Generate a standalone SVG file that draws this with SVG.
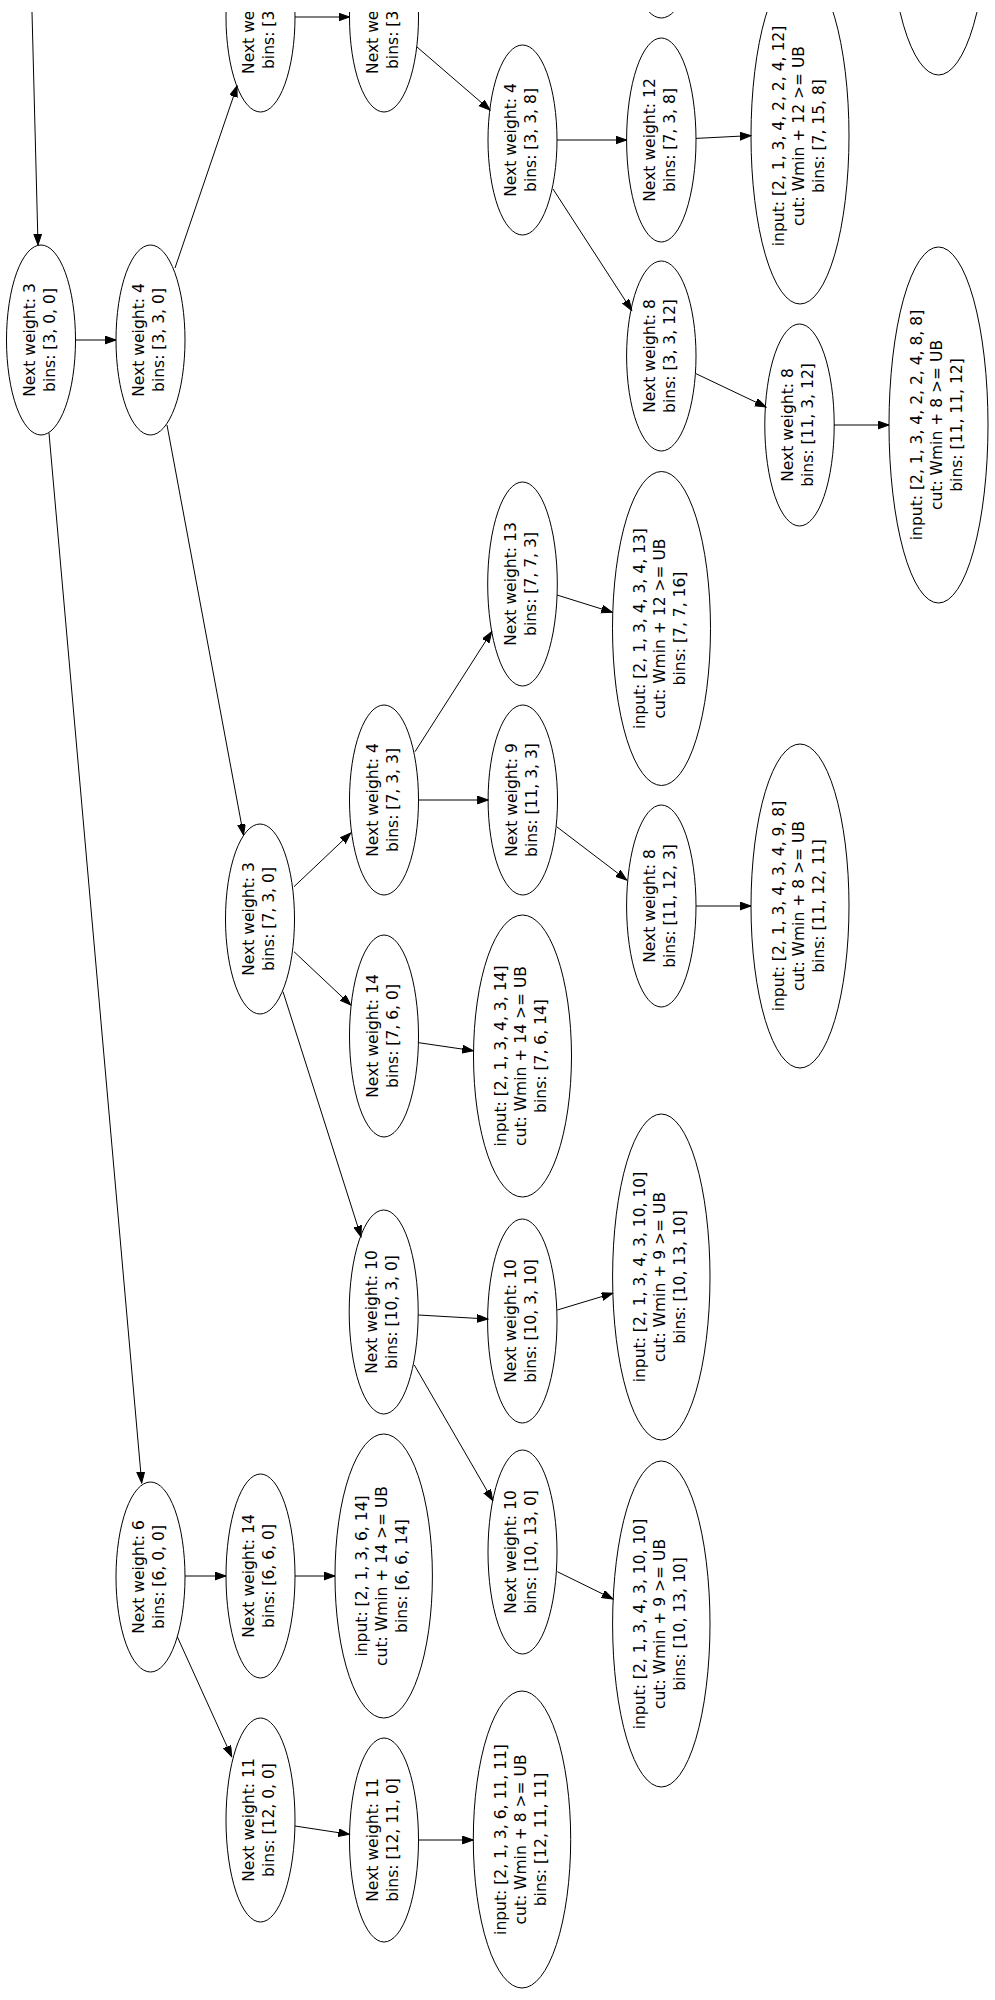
<svg xmlns="http://www.w3.org/2000/svg" width="995" height="2000" viewBox="0 0 995 2000">
<style>
.n ellipse{fill:none;stroke:#000;stroke-width:1}
text{font-family:"DejaVu Sans",Verdana,sans-serif;font-size:15.56px;fill:#000;text-anchor:middle}
text.s{text-anchor:start}
#connectors line{stroke:#000;stroke-width:1;marker-end:url(#arr)}
</style>
<defs>
<marker id="arr" markerUnits="userSpaceOnUse" markerWidth="12" markerHeight="9" refX="11" refY="3.9" orient="auto"><path d="M0,0 L11,3.9 L0,7.8 z" fill="#000" stroke="#000" stroke-width="1"/></marker>
<clipPath id="clip"><rect x="0" y="12" width="995" height="1988"/></clipPath>
</defs>
<rect x="0" y="0" width="995" height="2000" fill="#fff"/>
<g clip-path="url(#clip)">
<g id="connectors">
<line x1="31.7" y1="0" x2="38" y2="245"/>
<line x1="75.5" y1="340" x2="116" y2="340"/>
<line x1="49" y1="433" x2="141.7" y2="1483"/>
<line x1="175" y1="268" x2="237" y2="86"/>
<line x1="167" y1="425" x2="243.5" y2="835"/>
<line x1="295" y1="17" x2="349.5" y2="17"/>
<line x1="417" y1="47" x2="490" y2="110"/>
<line x1="557" y1="140" x2="626.6" y2="140"/>
<line x1="696" y1="138.4" x2="751" y2="135.6"/>
<line x1="553" y1="189" x2="631.7" y2="310.4"/>
<line x1="696" y1="373.7" x2="766" y2="407"/>
<line x1="834" y1="425" x2="889" y2="425"/>
<line x1="294" y1="886.7" x2="350.7" y2="833"/>
<line x1="294" y1="951.7" x2="350.7" y2="1005"/>
<line x1="283" y1="991.7" x2="361" y2="1236.7"/>
<line x1="415" y1="751.7" x2="491.7" y2="631.7"/>
<line x1="418.7" y1="800" x2="488.3" y2="800"/>
<line x1="557" y1="595" x2="612.3" y2="612.3"/>
<line x1="556.7" y1="826.7" x2="626.7" y2="880"/>
<line x1="696" y1="906" x2="751" y2="906"/>
<line x1="418.7" y1="1042.7" x2="473.3" y2="1050.7"/>
<line x1="418.3" y1="1315" x2="488" y2="1319"/>
<line x1="557.3" y1="1310" x2="612.7" y2="1293.3"/>
<line x1="414.3" y1="1365" x2="492.7" y2="1500.5"/>
<line x1="557.3" y1="1571.7" x2="613" y2="1599"/>
<line x1="185" y1="1576" x2="226" y2="1576"/>
<line x1="295" y1="1576" x2="335" y2="1576"/>
<line x1="177.3" y1="1636.7" x2="231.7" y2="1756.7"/>
<line x1="295" y1="1826" x2="349.3" y2="1834.3"/>
<line x1="418.5" y1="1840" x2="473.3" y2="1840"/>
</g>
<g id="n_a" class="n"><ellipse cx="41" cy="340" rx="34.5" ry="95"/><text transform="translate(41,340) rotate(-90)"><tspan x="0" y="-6.25">Next weight: 3</tspan><tspan x="0" y="13.75">bins: [3, 0, 0]</tspan></text></g>
<g id="n_b" class="n"><ellipse cx="150.5" cy="340" rx="34.5" ry="95"/><text transform="translate(150.5,340) rotate(-90)"><tspan x="0" y="-6.25">Next weight: 4</tspan><tspan x="0" y="13.75">bins: [3, 3, 0]</tspan></text></g>
<g id="n_c" class="n"><ellipse cx="260.5" cy="17" rx="34.5" ry="95"/><text class="s" transform="translate(260.5,17) rotate(-90)"><tspan x="-57" y="-6.25">Next we</tspan><tspan x="-52" y="13.75">bins: [3</tspan></text></g>
<g id="n_d" class="n"><ellipse cx="384" cy="17" rx="34.5" ry="95"/><text class="s" transform="translate(384,17) rotate(-90)"><tspan x="-57" y="-6.25">Next we</tspan><tspan x="-52" y="13.75">bins: [3</tspan></text></g>
<g id="n_e" class="n"><ellipse cx="522.5" cy="140" rx="34.5" ry="95"/><text transform="translate(522.5,140) rotate(-90)"><tspan x="0" y="-6.25">Next weight: 4</tspan><tspan x="0" y="13.75">bins: [3, 3, 8]</tspan></text></g>
<g id="n_f" class="n"><ellipse cx="661.3" cy="140" rx="34.7" ry="102"/><text transform="translate(661.3,140) rotate(-90)"><tspan x="0" y="-6.25">Next weight: 12</tspan><tspan x="0" y="13.75">bins: [7, 3, 8]</tspan></text></g>
<g id="n_g" class="n"><ellipse cx="800" cy="136" rx="49" ry="168"/><text transform="translate(800,136) rotate(-90)"><tspan x="0" y="-16.5">input: [2, 1, 3, 4, 2, 2, 4, 12]</tspan><tspan x="0" y="3.5">cut: Wmin + 12 &gt;= UB</tspan><tspan x="0" y="23.5">bins: [7, 15, 8]</tspan></text></g>
<g id="n_h" class="n"><ellipse cx="661.3" cy="356" rx="34.7" ry="95"/><text transform="translate(661.3,356) rotate(-90)"><tspan x="0" y="-6.25">Next weight: 8</tspan><tspan x="0" y="13.75">bins: [3, 3, 12]</tspan></text></g>
<g id="n_i" class="n"><ellipse cx="799.5" cy="425" rx="34.7" ry="101"/><text transform="translate(799.5,425) rotate(-90)"><tspan x="0" y="-6.25">Next weight: 8</tspan><tspan x="0" y="13.75">bins: [11, 3, 12]</tspan></text></g>
<g id="n_j" class="n"><ellipse cx="938.5" cy="425" rx="49.5" ry="178"/><text transform="translate(938.5,425) rotate(-90)"><tspan x="0" y="-16.5">input: [2, 1, 3, 4, 2, 2, 4, 8, 8]</tspan><tspan x="0" y="3.5">cut: Wmin + 8 &gt;= UB</tspan><tspan x="0" y="23.5">bins: [11, 11, 12]</tspan></text></g>
<g id="n_k" class="n"><ellipse cx="260" cy="919" rx="34.5" ry="95"/><text transform="translate(260,919) rotate(-90)"><tspan x="0" y="-6.25">Next weight: 3</tspan><tspan x="0" y="13.75">bins: [7, 3, 0]</tspan></text></g>
<g id="n_l" class="n"><ellipse cx="384" cy="800" rx="34.5" ry="95"/><text transform="translate(384,800) rotate(-90)"><tspan x="0" y="-6.25">Next weight: 4</tspan><tspan x="0" y="13.75">bins: [7, 3, 3]</tspan></text></g>
<g id="n_m" class="n"><ellipse cx="522.5" cy="584" rx="34.8" ry="102"/><text transform="translate(522.5,584) rotate(-90)"><tspan x="0" y="-6.25">Next weight: 13</tspan><tspan x="0" y="13.75">bins: [7, 7, 3]</tspan></text></g>
<g id="n_n" class="n"><ellipse cx="661.5" cy="628.5" rx="49" ry="157"/><text transform="translate(661.5,628.5) rotate(-90)"><tspan x="0" y="-16.5">input: [2, 1, 3, 4, 3, 4, 13]</tspan><tspan x="0" y="3.5">cut: Wmin + 12 &gt;= UB</tspan><tspan x="0" y="23.5">bins: [7, 7, 16]</tspan></text></g>
<g id="n_o" class="n"><ellipse cx="522.8" cy="800" rx="34.7" ry="95"/><text transform="translate(522.8,800) rotate(-90)"><tspan x="0" y="-6.25">Next weight: 9</tspan><tspan x="0" y="13.75">bins: [11, 3, 3]</tspan></text></g>
<g id="n_p" class="n"><ellipse cx="661.3" cy="906" rx="34.7" ry="101"/><text transform="translate(661.3,906) rotate(-90)"><tspan x="0" y="-6.25">Next weight: 8</tspan><tspan x="0" y="13.75">bins: [11, 12, 3]</tspan></text></g>
<g id="n_q" class="n"><ellipse cx="800" cy="906" rx="49" ry="162"/><text transform="translate(800,906) rotate(-90)"><tspan x="0" y="-16.5">input: [2, 1, 3, 4, 3, 4, 9, 8]</tspan><tspan x="0" y="3.5">cut: Wmin + 8 &gt;= UB</tspan><tspan x="0" y="23.5">bins: [11, 12, 11]</tspan></text></g>
<g id="n_r" class="n"><ellipse cx="384" cy="1036" rx="34.5" ry="101"/><text transform="translate(384,1036) rotate(-90)"><tspan x="0" y="-6.25">Next weight: 14</tspan><tspan x="0" y="13.75">bins: [7, 6, 0]</tspan></text></g>
<g id="n_s" class="n"><ellipse cx="522.5" cy="1056" rx="49" ry="141"/><text transform="translate(522.5,1056) rotate(-90)"><tspan x="0" y="-16.5">input: [2, 1, 3, 4, 3, 14]</tspan><tspan x="0" y="3.5">cut: Wmin + 14 &gt;= UB</tspan><tspan x="0" y="23.5">bins: [7, 6, 14]</tspan></text></g>
<g id="n_t" class="n"><ellipse cx="383.7" cy="1312" rx="34.5" ry="102"/><text transform="translate(383.7,1312) rotate(-90)"><tspan x="0" y="-6.25">Next weight: 10</tspan><tspan x="0" y="13.75">bins: [10, 3, 0]</tspan></text></g>
<g id="n_u" class="n"><ellipse cx="522.3" cy="1321" rx="34.7" ry="102"/><text transform="translate(522.3,1321) rotate(-90)"><tspan x="0" y="-6.25">Next weight: 10</tspan><tspan x="0" y="13.75">bins: [10, 3, 10]</tspan></text></g>
<g id="n_v" class="n"><ellipse cx="661.3" cy="1277" rx="48.7" ry="163"/><text transform="translate(661.3,1277) rotate(-90)"><tspan x="0" y="-16.5">input: [2, 1, 3, 4, 3, 10, 10]</tspan><tspan x="0" y="3.5">cut: Wmin + 9 &gt;= UB</tspan><tspan x="0" y="23.5">bins: [10, 13, 10]</tspan></text></g>
<g id="n_w" class="n"><ellipse cx="522.5" cy="1552" rx="34.5" ry="102"/><text transform="translate(522.5,1552) rotate(-90)"><tspan x="0" y="-6.25">Next weight: 10</tspan><tspan x="0" y="13.75">bins: [10, 13, 0]</tspan></text></g>
<g id="n_x" class="n"><ellipse cx="661.3" cy="1624" rx="48.7" ry="163"/><text transform="translate(661.3,1624) rotate(-90)"><tspan x="0" y="-16.5">input: [2, 1, 3, 4, 3, 10, 10]</tspan><tspan x="0" y="3.5">cut: Wmin + 9 &gt;= UB</tspan><tspan x="0" y="23.5">bins: [10, 13, 10]</tspan></text></g>
<g id="n_y" class="n"><ellipse cx="150.5" cy="1577" rx="34.5" ry="95"/><text transform="translate(150.5,1577) rotate(-90)"><tspan x="0" y="-6.25">Next weight: 6</tspan><tspan x="0" y="13.75">bins: [6, 0, 0]</tspan></text></g>
<g id="n_z" class="n"><ellipse cx="260.5" cy="1576" rx="34.5" ry="102"/><text transform="translate(260.5,1576) rotate(-90)"><tspan x="0" y="-6.25">Next weight: 14</tspan><tspan x="0" y="13.75">bins: [6, 6, 0]</tspan></text></g>
<g id="n_aa" class="n"><ellipse cx="383.7" cy="1576" rx="48.7" ry="142"/><text transform="translate(383.7,1576) rotate(-90)"><tspan x="0" y="-16.5">input: [2, 1, 3, 6, 14]</tspan><tspan x="0" y="3.5">cut: Wmin + 14 &gt;= UB</tspan><tspan x="0" y="23.5">bins: [6, 6, 14]</tspan></text></g>
<g id="n_ab" class="n"><ellipse cx="260.5" cy="1820" rx="34.5" ry="102"/><text transform="translate(260.5,1820) rotate(-90)"><tspan x="0" y="-6.25">Next weight: 11</tspan><tspan x="0" y="13.75">bins: [12, 0, 0]</tspan></text></g>
<g id="n_ac" class="n"><ellipse cx="384" cy="1840" rx="34.5" ry="102"/><text transform="translate(384,1840) rotate(-90)"><tspan x="0" y="-6.25">Next weight: 11</tspan><tspan x="0" y="13.75">bins: [12, 11, 0]</tspan></text></g>
<g id="n_ad" class="n"><ellipse cx="522" cy="1839.5" rx="48.7" ry="148.5"/><text transform="translate(522,1839.5) rotate(-90)"><tspan x="0" y="-16.5">input: [2, 1, 3, 6, 11, 11]</tspan><tspan x="0" y="3.5">cut: Wmin + 8 &gt;= UB</tspan><tspan x="0" y="23.5">bins: [12, 11, 11]</tspan></text></g>
<g id="n_ae" class="n"><ellipse cx="661.3" cy="-77" rx="34.7" ry="95"/></g>
<g id="n_af" class="n"><ellipse cx="938.5" cy="-95" rx="49.5" ry="170"/></g>
</g>
</svg>
